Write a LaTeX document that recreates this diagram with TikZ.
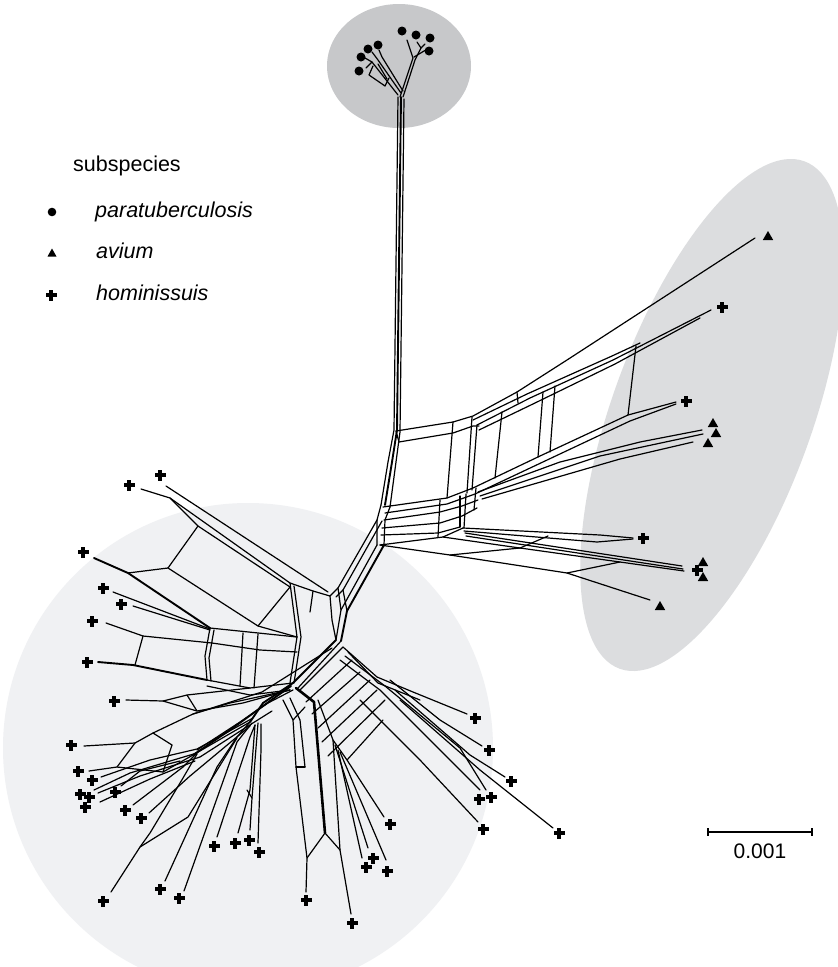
\documentclass[tikz,border=0pt]{standalone}
\usepackage{fontspec}
\setmainfont{Liberation Sans}
\usetikzlibrary{calc}
\definecolor{topgray}{HTML}{C7C8CA}
\definecolor{rightgray}{HTML}{DCDDDF}
\definecolor{leftgray}{HTML}{F0F1F3}
\begin{document}
\begin{tikzpicture}[x=1pt,y=-1pt,
  net/.style={line width=1.2pt,line join=round,line cap=round},
  thk/.style={line width=1.9pt},
  plusmark/.pic={\fill (-5.5,-1.7) rectangle (5.5,1.7); \fill (-1.7,-5.5) rectangle (1.7,5.5);},
  trimark/.pic={\fill (-5.2,4) -- (5.2,4) -- (0,-5) -- cycle;},
  dotmark/.pic={\fill (0,0) circle [radius=4.5];},
  legtext/.style={anchor=base west,inner sep=0pt,font=\fontsize{21.5}{26}\selectfont}]
\useasboundingbox (0,0) rectangle (838,967);
\begin{scope}
\clip (0,0) rectangle (838,967);
\fill[white] (0,0) rectangle (838,967);
\fill[leftgray] (248,748) circle [radius=245];
\fill[rightgray, rotate around={-20:(712,415)}] (712,415) ellipse [x radius=100, y radius=270];
\fill[topgray] (399,66) ellipse [x radius=72, y radius=62];
\end{scope}

% ---- top cluster
\draw[net] (400,97) -- (413,58) -- (407,40);
\draw[net] (403,97) -- (415,60) -- (421,48) -- (417,42);
\draw[net] (421,48) -- (425,44);
\draw[net] (414,57) -- (424,51) -- (426,50);
\draw[net] (398,95) -- (372,62) -- (365,58);
\draw[net] (401,93) -- (378,60) -- (372,52);
\draw[net] (403,91) -- (382,57) -- (379,50);
\draw[net] (372,62) -- (366,68);
\draw[net] (373,66) -- (369,75) -- (385,86) -- (389,78);
\draw[net] (378,64) -- (387,79);

% ---- trunk
\draw[net] (398,97) -- (394,430) -- (388,462) -- (381,505);
\draw[net,thk] (401,97) -- (397,430) -- (392,462) -- (385,505);
\draw[net] (404,99) -- (400,432) -- (396,462) -- (390,507);

% ---- right branch
\draw[net] (396,431) -- (453,422) -- (473,416) -- (517,392) -- (567,360) -- (755,238);
\draw[net] (399,442) -- (453,433) -- (473,426) -- (479,426);
\draw[net] (396,431) -- (399,442);
\draw[net] (477,425) -- (530,398) -- (613,360) -- (711,310);
\draw[net] (473,420) -- (527,394) -- (612,356) -- (640,343);
\draw[net] (479,430) -- (535,403) -- (615,364) -- (700,318);
\draw[net] (453,422) -- (447,498);
\draw[net] (472,417) -- (467,493);
\draw[net] (477,425) -- (472,490);
\draw[net] (502,412) -- (495,478);
\draw[net] (543,392) -- (538,457);
\draw[net] (555,386) -- (550,452);
\draw[net] (636,346) -- (628,415);
\draw[net] (517,392) -- (518,403);

\draw[net] (383,507) -- (447,498) -- (473,488) -- (540,456) -- (628,415) -- (676,402);
\draw[net] (385,513) -- (447,504) -- (475,494) -- (545,461) -- (630,421) -- (676,404);
\draw[net] (478,492) -- (560,462) -- (640,442) -- (702,430);
\draw[net] (480,496) -- (600,456) -- (703,434);
\draw[net] (482,499) -- (620,459) -- (693,442);

\draw[net] (384,520) -- (440,512) -- (462,506) -- (478,500);
\draw[net] (382,528) -- (440,523) -- (462,516) -- (477,508);
\draw[net] (381,535) -- (438,533) -- (460,527);
\draw[net] (380,545) -- (443,537) -- (463,528);
\draw[net] (440,500) -- (438,537);
\draw[net] (460,496) -- (460,527);
\draw[net] (466,494) -- (464,528);
\draw[net] (476,488) -- (474,510);

\draw[net] (463,528) -- (600,535) -- (633,538);
\draw[net] (464,531) -- (597,542) -- (633,539);
\draw[net] (465,533) -- (682,566);
\draw[net] (466,536) -- (683,569);
\draw[net] (443,537) -- (520,548) -- (620,562) -- (684,571);
\draw[net] (380,545) -- (450,555) -- (567,573) -- (650,600);
\draw[net] (567,573) -- (620,562);
\draw[net] (450,555) -- (520,548);
\draw[net] (520,548) -- (548,536);

% ---- spine
\draw[net] (381,505) -- (377,520) -- (377,545);
\draw[net] (390,507) -- (385,520) -- (384,545);
\draw[net] (377,520) -- (338,588) -- (330,596);
\draw[net] (382,521) -- (343,590) -- (336,597);
\draw[net] (377,545) -- (341,610) -- (336,640);
\draw[net,thk] (384,545) -- (347,611) -- (341,641);
\draw[net] (338,588) -- (341,610);
\draw[net] (343,590) -- (347,611);
\draw[net] (330,596) -- (332,620) -- (336,640);
\draw[net,thk] (336,640) -- (293,683);
\draw[net] (341,641) -- (298,688);

% ---- left upper
\draw[net] (141,489) -- (170,498) -- (290,583) -- (313,591) -- (330,596);
\draw[net] (166,486) -- (328,592);
\draw[net] (170,498) -- (198,526) -- (290,587);
\draw[net] (198,526) -- (168,568);
\draw[net] (168,568) -- (258,626) -- (297,637);
\draw[net] (290,587) -- (258,626);
\draw[net] (290,583) -- (297,637) -- (290,683);
\draw[net] (294,586) -- (301,637) -- (294,683);
\draw[net] (313,591) -- (310,612);

\draw[net,thk] (94,558) -- (128,573) -- (210,628);
\draw[net] (128,573) -- (168,568);
\draw[net] (113,592) -- (210,629);
\draw[net] (133,606) -- (210,630);
\draw[net] (210,628) -- (297,637);
\draw[net] (212,643) -- (260,650) -- (297,652);
\draw[net] (210,628) -- (205,656) -- (207,680);
\draw[net] (214,630) -- (209,658) -- (211,681);
\draw[net] (243,633) -- (240,686);
\draw[net] (258,634) -- (254,688);
\draw[net] (106,623) -- (143,636) -- (212,643);
\draw[net] (143,636) -- (135,665);
\draw[net,thk] (98,662) -- (133,665) -- (207,680);
\draw[net] (207,680) -- (250,688) -- (293,683);
\draw[net] (207,686) -- (250,695) -- (290,690);
\draw[net] (126,700) -- (163,701) -- (187,695) -- (250,688);
\draw[net] (163,701) -- (197,711) -- (243,703) -- (290,690);
\draw[net] (187,695) -- (197,711);
\draw[net] (84,746) -- (135,743) -- (153,733) -- (193,714) -- (230,703) -- (290,690);
\draw[net] (135,743) -- (117,767);
\draw[net] (153,733) -- (172,745);
\draw[net] (193,714) -- (262,692) -- (332,648);

% ---- lower-left fan
\draw[net] (89,771) -- (117,767) -- (163,772) -- (193,755) -- (250,722);
\draw[net] (101,777) -- (150,760) -- (197,749) -- (253,718);
\draw[net] (94,790) -- (130,773) -- (197,753);
\draw[net] (98,793) -- (140,776) -- (200,757);
\draw[net] (100,802) -- (150,779) -- (195,761);
\draw[net] (121,786) -- (140,771) -- (180,761);
\draw[net] (133,805) -- (183,767) -- (197,753);
\draw[net] (149,813) -- (190,776) -- (250,726);
\draw[net,thk] (193,755) -- (230,730) -- (263,706) -- (291,686);
\draw[net] (197,750) -- (240,722) -- (268,703) -- (293,690);
\draw[net] (200,757) -- (245,728) -- (272,711);
\draw[net] (163,772) -- (172,745);

\draw[net] (111,892) -- (140,847) -- (188,817) -- (237,738);
\draw[net] (140,847) -- (150,833) -- (183,778) -- (197,754);
\draw[net] (165,881) -- (217,767) -- (237,737);
\draw[net] (184,891) -- (237,742) -- (252,723);
\draw[net] (217,837) -- (250,737) -- (255,725);
\draw[net] (238,833) -- (250,790) -- (255,725);
\draw[net] (250,830) -- (252,798) -- (258,723);
\draw[net] (258,843) -- (261,750) -- (261,724);
\draw[net] (247,790) -- (252,798);
\draw[net] (237,737) -- (250,722);
\draw[net,thk] (250,722) -- (263,703) -- (293,683);

% ---- central column
\draw[net] (283,700) -- (293,720) -- (296,767) -- (307,858) -- (306,892);
\draw[net] (290,698) -- (300,720) -- (305,767);
\draw[net,line width=2.6pt] (296,688) -- (314,702) -- (325,833);
\draw[net] (325,833) -- (307,858);
\draw[net] (325,833) -- (340,850) -- (351,914);
\draw[net] (318,700) -- (333,740) -- (340,850);
\draw[net] (296,767) -- (305,767);
\draw[net] (293,720) -- (305,707);
\draw[net] (333,740) -- (347,760) -- (384,817);
\draw[net] (335,745) -- (368,848);
\draw[net] (340,752) -- (386,860);
\draw[net] (338,750) -- (362,858);
\draw[net] (347,760) -- (383,720);

% ---- lower-right group
\draw[net] (343,647) -- (377,677) -- (413,692) -- (467,714);
\draw[net] (348,652) -- (378,683) -- (420,700);
\draw[net] (340,660) -- (380,690) -- (450,760) -- (480,790);
\draw[net] (345,656) -- (385,686) -- (460,748) -- (486,790);
\draw[net] (390,680) -- (440,720) -- (482,746);
\draw[net] (395,690) -- (470,755) -- (505,777);
\draw[net] (360,700) -- (420,760) -- (478,822);
\draw[net] (400,700) -- (480,770) -- (553,828);
\draw[net] (300,690) -- (343,647);
\draw[net] (306,702) -- (352,660);
\draw[net] (312,714) -- (360,672);
\draw[net] (318,728) -- (370,680);
\draw[net] (322,742) -- (377,690);
\draw[net] (328,756) -- (385,700);

% ---- leaves
\foreach \n/\x/\y in {d1/359/71,d2/361/57,d3/368/49,d4/378/45,d5/402/31,d6/416/35,d7/430/38,d8/429/51}
  {\coordinate (\n) at (\x,\y); \pic at (\n) {dotmark};}
\foreach \n/\x/\y in {a1/768/236,a2/713/423,a3/716/433,a4/708/443,a5/703/562,a6/703/577,a7/660/606}
  {\coordinate (\n) at (\x,\y); \pic at (\n) {trimark};}
\foreach \n/\x/\y in {h1/722/307,h2/686/401,h3/643/538,h4/697/570,h5/129/485,h6/160/475,h7/83/552,h8/103/588,h9/121/604,h10/92/621,h11/87/662,h12/114/701,h13/71/745,h14/78/771,h15/92/780,h16/80/794,h17/89/797,h18/85/807,h19/115/792,h20/125/810,h21/141/818,h22/214/846,h23/235/843,h24/249/840,h25/259/852,h26/103/901,h27/160/889,h28/179/898,h29/306/900,h30/352/923,h31/390/824,h32/373/858,h33/366/867,h34/387/871,h35/475/718,h36/489/750,h37/511/781,h38/491/797,h39/479/799,h40/483/829,h41/559/833}
  {\coordinate (\n) at (\x,\y); \pic at (\n) {plusmark};}

% ---- legend
\node[legtext] (lgtitle) at (73,171) {subspecies};
\coordinate (lg1) at (52,212); \fill (lg1) circle [radius=4.3];
\node[legtext] (lgpara) at (95,217) {\itshape paratuberculosis};
\coordinate (lg2) at (52,253); \fill ($(lg2)+(-4.5,3.5)$) -- ($(lg2)+(4.5,3.5)$) -- ($(lg2)+(0,-4.5)$) -- cycle;
\node[legtext] (lgavium) at (96,258) {\itshape avium};
\coordinate (lg3) at (51,295); \pic at (lg3) {plusmark};
\node[legtext] (lghom) at (96,300) {\itshape hominissuis};

% ---- scale bar
\coordinate (sbL) at (708,832); \coordinate (sbR) at (812,832);
\draw[line width=1.1pt] (sbL) -- (sbR);
\draw[line width=1.1pt] ($(sbL)+(0,-4)$) -- ($(sbL)+(0,4)$);
\draw[line width=1.1pt] ($(sbR)+(0,-4)$) -- ($(sbR)+(0,4)$);
\node[anchor=base,inner sep=0pt,font=\fontsize{21}{25}\selectfont] (sblabel) at (760,858) {0.001};
\end{tikzpicture}
\end{document}
